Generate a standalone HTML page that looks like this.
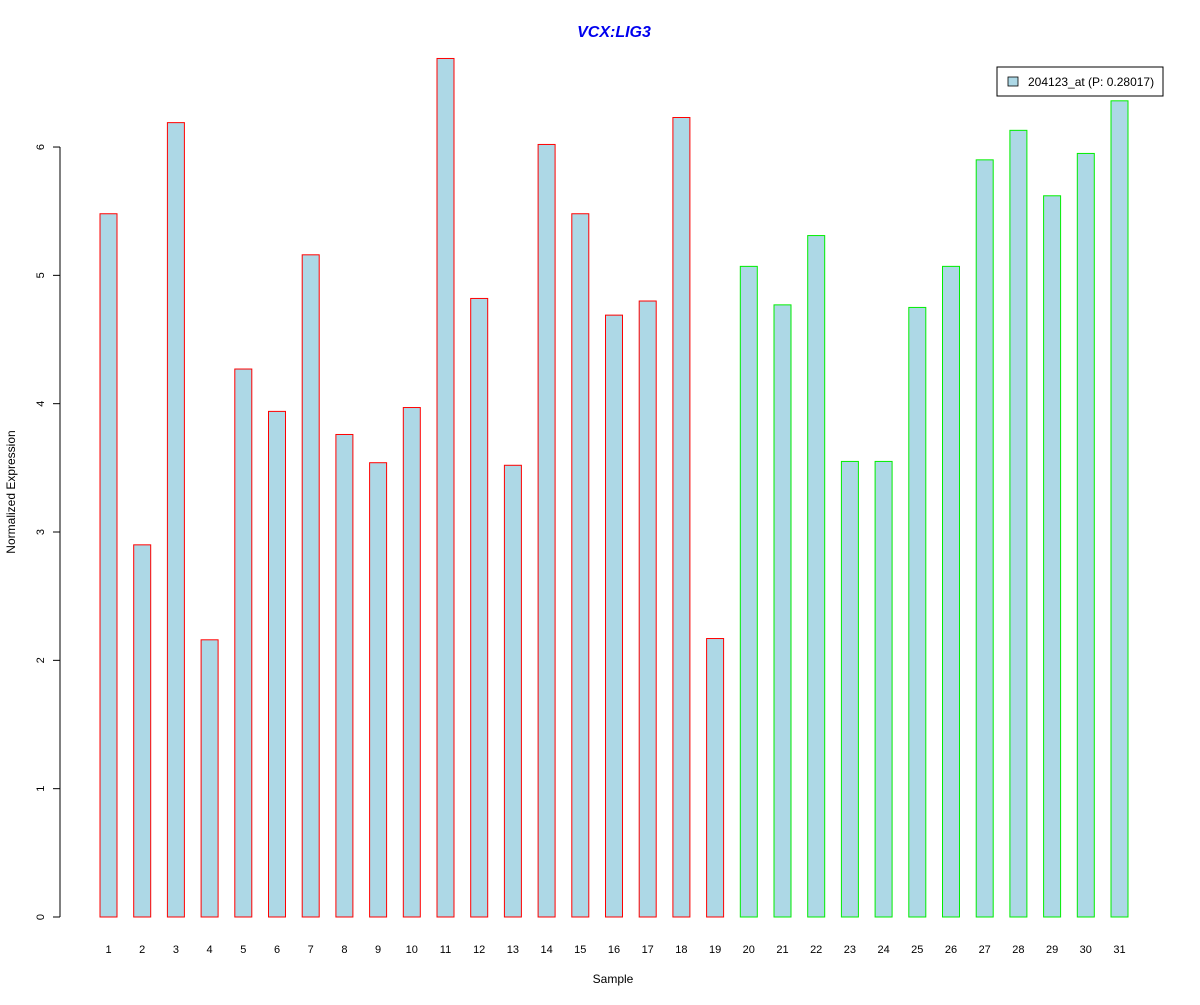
<!DOCTYPE html>
<html><head><meta charset="utf-8"><style>
body{margin:0;background:#fff;}
svg text{font-family:"Liberation Sans",Arial,sans-serif;}
</style></head><body>
<svg id="chart" width="1200" height="1000" xmlns="http://www.w3.org/2000/svg">
<rect width="1200" height="1000" fill="#fff"/>
<text x="614" y="37" text-anchor="middle" font-size="16" font-weight="bold" font-style="italic" fill="#0000ee">VCX:LIG3</text>
<text x="613" y="983" text-anchor="middle" font-size="12">Sample</text>
<text transform="translate(15,492) rotate(-90)" text-anchor="middle" font-size="12">Normalized Expression</text>
<g id="bars"></g>
<g id="yaxis"></g>
<g id="xlabels"></g>
<g>
<rect x="997" y="67" width="166" height="29" fill="#fff" stroke="#000"/>
<rect x="1008" y="77" width="10" height="9" fill="#add8e6" stroke="#000" stroke-width="0.8"/>
<text x="1028" y="86" font-size="12">204123_at (P: 0.28017)</text>
</g>
</svg>
<script>
const categories=["1","2","3","4","5","6","7","8","9","10","11","12","13","14","15","16","17","18","19","20","21","22","23","24","25","26","27","28","29","30","31"];
const values=[5.48,2.90,6.19,2.16,4.27,3.94,5.16,3.76,3.54,3.97,6.69,4.82,3.52,6.02,5.48,4.69,4.80,6.23,2.17,5.07,4.77,5.31,3.55,3.55,4.75,5.07,5.90,6.13,5.62,5.95,6.36];
const groups=["a","a","a","a","a","a","a","a","a","a","a","a","a","a","a","a","a","a","a","b","b","b","b","b","b","b","b","b","b","b","b"];
const yTicks=[0,1,2,3,4,5,6];
const NS="http://www.w3.org/2000/svg";
const y=v=>917-v*128.33;
const x=i=>108.5+i*33.7;
const bw=17;
const bars=document.getElementById('bars');
values.forEach((v,i)=>{
 const r=document.createElementNS(NS,'rect');
 
 
 r.setAttribute('x',x(i)-bw/2);r.setAttribute('y',y(v));
 r.setAttribute('width',bw);r.setAttribute('height',y(0)-y(v));
 r.setAttribute('fill','#add8e6');
 r.setAttribute('stroke',groups[i]==='a'?'#ff0000':'#00ee00');
 bars.appendChild(r);
 const t=document.createElementNS(NS,'text');
 
 
 t.setAttribute('x',x(i));t.setAttribute('y',953);
 t.setAttribute('text-anchor','middle');t.setAttribute('font-size','11');
 t.textContent=categories[i];
 document.getElementById('xlabels').appendChild(t);
});
const ya=document.getElementById('yaxis');
const ax=document.createElementNS(NS,'line');


ax.setAttribute('x1',60);ax.setAttribute('x2',60);ax.setAttribute('y1',y(0));ax.setAttribute('y2',y(6));ax.setAttribute('stroke','#000');
ya.appendChild(ax);
yTicks.forEach(v=>{
 const l=document.createElementNS(NS,'line');
 
 
 l.setAttribute('x1',53);l.setAttribute('x2',60);l.setAttribute('y1',y(v));l.setAttribute('y2',y(v));l.setAttribute('stroke','#000');
 ya.appendChild(l);
 const t=document.createElementNS(NS,'text');
 
 
 t.setAttribute('transform','translate(44,'+y(v)+') rotate(-90)');
 t.setAttribute('text-anchor','middle');t.setAttribute('font-size','11');
 t.textContent=v;
 ya.appendChild(t);
});
</script>
</body></html>
